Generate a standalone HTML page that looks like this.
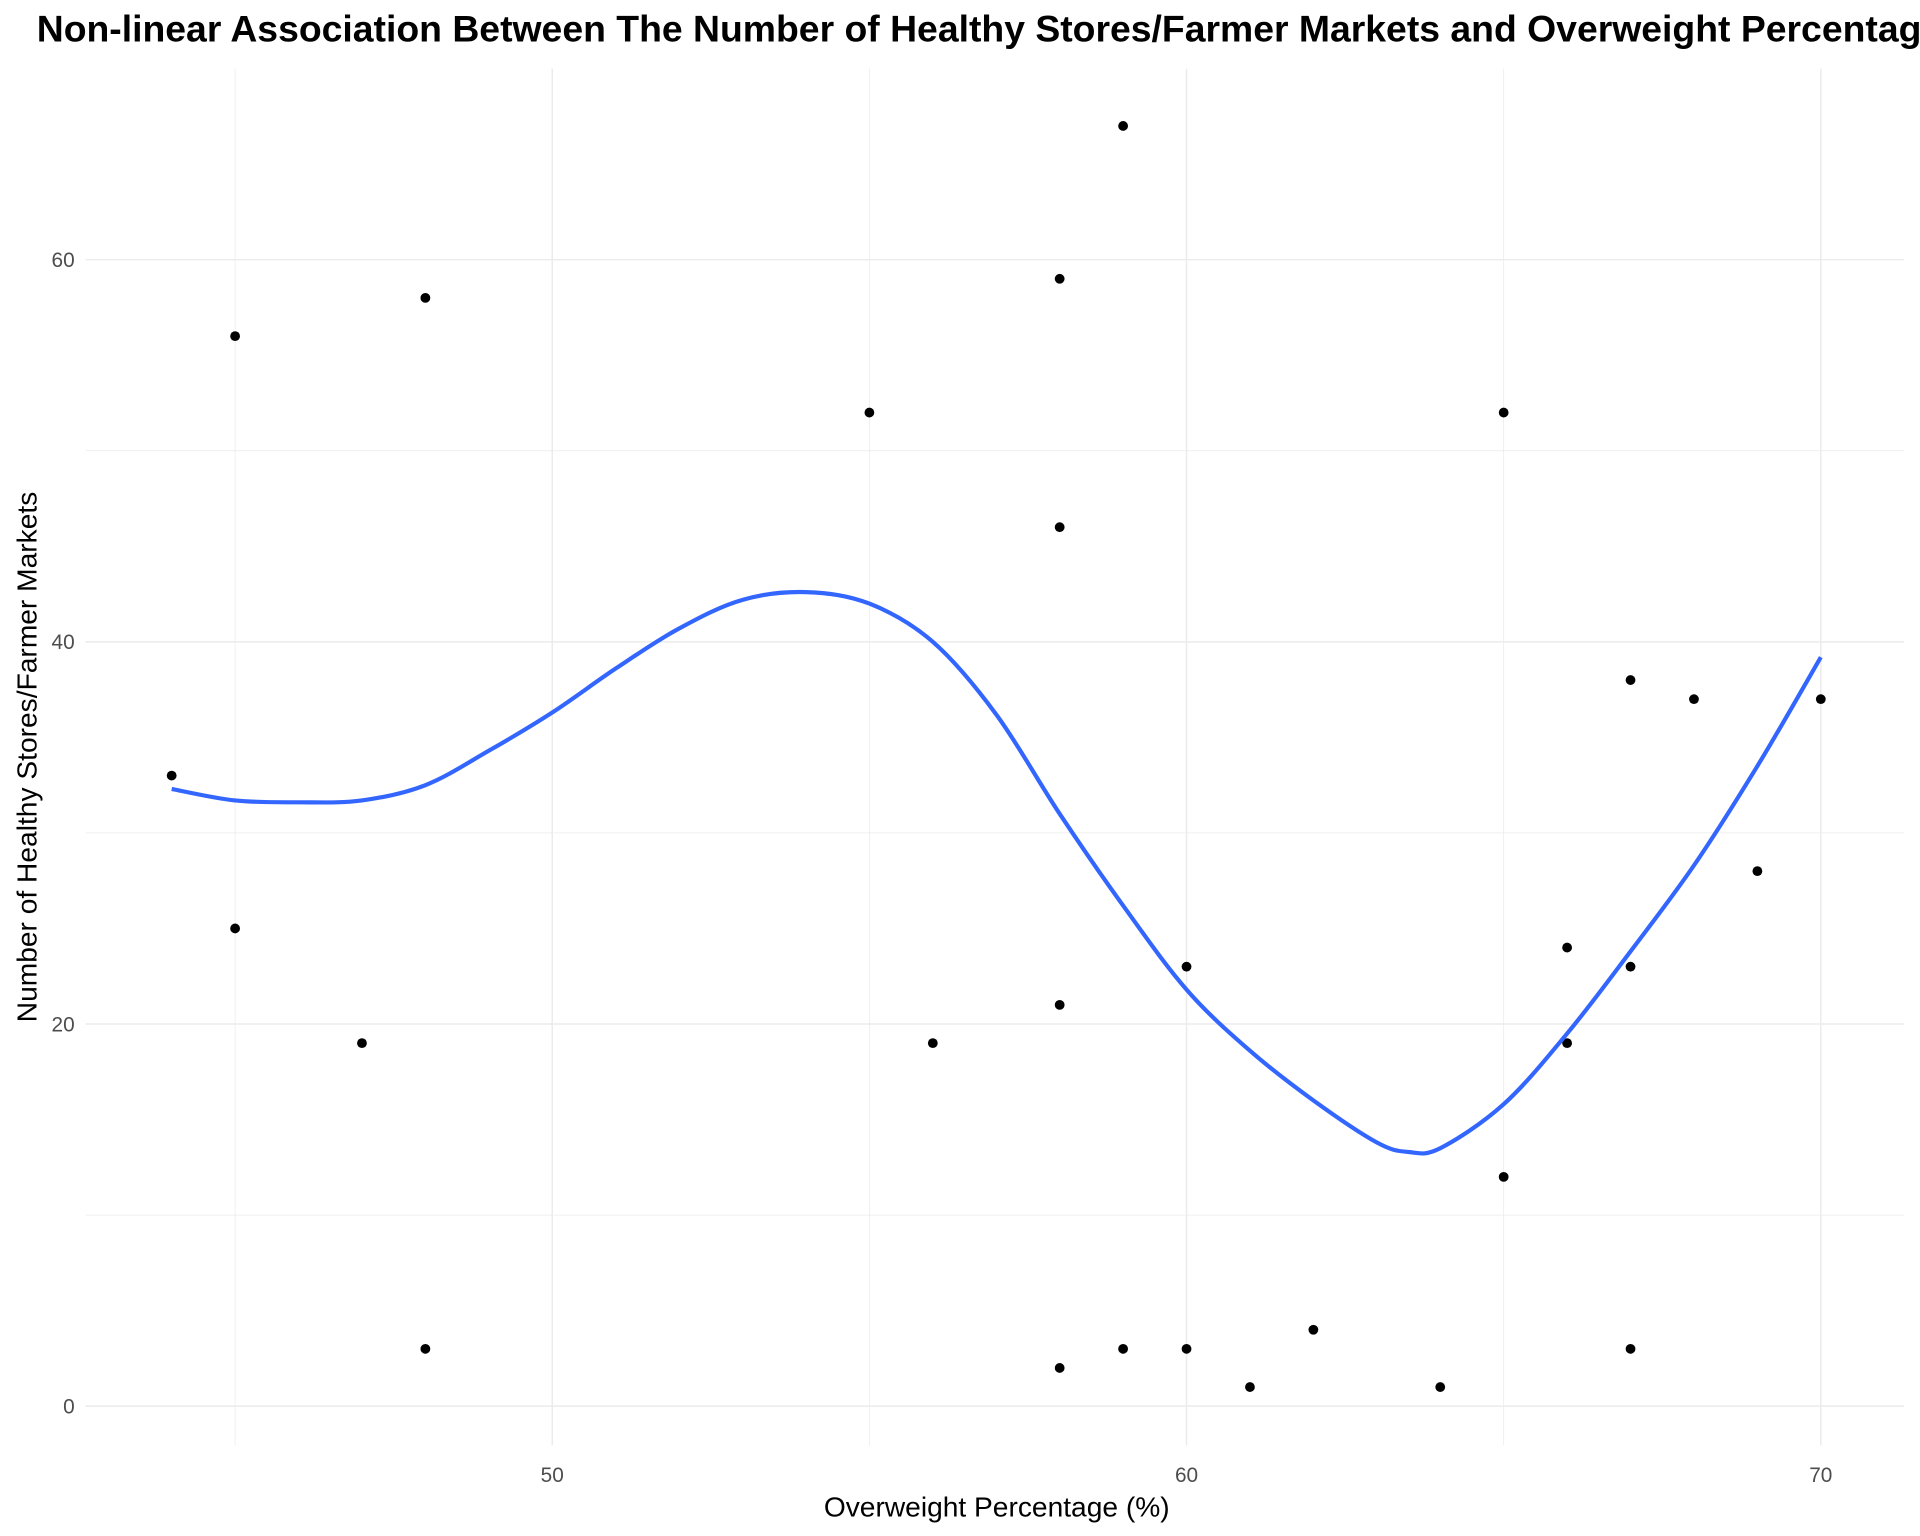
<!DOCTYPE html>
<html><head><meta charset="utf-8"><style>
html,body{margin:0;padding:0;background:#fff;overflow:hidden;}
svg{display:block;font-family:"Liberation Sans",Arial,sans-serif;}
</style></head><body>
<svg id="chart" width="1920" height="1536" viewBox="0 0 1568 1254" preserveAspectRatio="none" xmlns="http://www.w3.org/2000/svg">
<rect width="1568" height="1254" fill="#fff"/>
<g id="grid"></g>
<g id="marks"></g>
<g id="labels"></g>
<text x="30" y="34" font-size="30.5" font-weight="bold" fill="#000">Non-linear Association Between The Number of Healthy Stores/Farmer Markets and Overweight Percentage</text>
<text x="814" y="1238" font-size="23" text-anchor="middle" fill="#000">Overweight Percentage (%)</text>
<text transform="translate(30,618) rotate(-90)" font-size="23" text-anchor="middle" fill="#000">Number of Healthy Stores/Farmer Markets</text>
</svg>
<script>
const xs = [44,45,45,47,48,48,55,56,58,58,58,58,59,59,60,60,61,62,64,65,65,66,66,67,67,67,68,69,70];
const ys = [33,56,25,19,58,3,52,19,59,46,21,2,67,3,23,3,1,4,1,52,12,24,19,38,23,3,37,28,37];
const smoothX = [44,45,46,47,48,49,50,51,52,53,54,55,56,57,58,59,60,61,62,63,63.5,64,65,66,67,68,69,70];
const smoothY = [32.3,31.7,31.6,31.7,32.5,34.3,36.3,38.6,40.7,42.2,42.6,42.0,40.0,36.2,31.0,26.2,21.8,18.6,16.0,13.8,13.3,13.5,15.8,19.5,23.8,28.3,33.5,39.2];
const xTicks = [50,60,70];
const xMinor = [45,55,65];
const yTicks = [0,20,40,60];
const yMinor = [10,30,50];
const NS='http://www.w3.org/2000/svg';
const px = v => 451 + (v-50)*51.8;
const py = v => 1148 - v*15.6;
const L=70,R=1555,T=56,B=1180;
const grid=document.getElementById('grid'), marks=document.getElementById('marks'), labels=document.getElementById('labels');
function line(x1,y1,x2,y2,w){const l=document.createElementNS(NS,'line');l.setAttribute('x1',x1);l.setAttribute('y1',y1);l.setAttribute('x2',x2);l.setAttribute('y2',y2);l.setAttribute('stroke','#ebebeb');l.setAttribute('stroke-width',w);grid.appendChild(l);return l;}
xMinor.forEach(v=>{const l=line(px(v),T,px(v),B,0.6);

});
yMinor.forEach(v=>{const l=line(L,py(v),R,py(v),0.6);

});
xTicks.forEach(v=>{const l=line(px(v),T,px(v),B,1.2);


const t=document.createElementNS(NS,'text');t.setAttribute('x',px(v));t.setAttribute('y',1210);t.setAttribute('font-size','17');t.setAttribute('fill','#4d4d4d');t.setAttribute('text-anchor','middle');t.textContent=v;


labels.appendChild(t);});
yTicks.forEach(v=>{const l=line(L,py(v),R,py(v),1.2);


const t=document.createElementNS(NS,'text');t.setAttribute('x',61);t.setAttribute('y',py(v)+6);t.setAttribute('font-size','17');t.setAttribute('fill','#4d4d4d');t.setAttribute('text-anchor','end');t.textContent=v;


labels.appendChild(t);});
xs.forEach((x,i)=>{const c=document.createElementNS(NS,'circle');c.setAttribute('cx',px(x));c.setAttribute('cy',py(ys[i]));c.setAttribute('r',4);c.setAttribute('fill','#000');


marks.appendChild(c);});
const P=smoothX.map((x,i)=>[px(x),py(smoothY[i])]);
let d='M'+P[0][0].toFixed(1)+','+P[0][1].toFixed(1);
for(let i=0;i<P.length-1;i++){const p0=P[Math.max(0,i-1)],p1=P[i],p2=P[i+1],p3=P[Math.min(P.length-1,i+2)];
const c1=[p1[0]+(p2[0]-p0[0])/6,p1[1]+(p2[1]-p0[1])/6],c2=[p2[0]-(p3[0]-p1[0])/6,p2[1]-(p3[1]-p1[1])/6];
d+='C'+c1[0].toFixed(1)+','+c1[1].toFixed(1)+' '+c2[0].toFixed(1)+','+c2[1].toFixed(1)+' '+p2[0].toFixed(1)+','+p2[1].toFixed(1);}
const p=document.createElementNS(NS,'path');p.setAttribute('d',d);p.setAttribute('fill','none');p.setAttribute('stroke','#3366ff');p.setAttribute('stroke-width',3.4);p.setAttribute('stroke-linejoin','round');


marks.appendChild(p);
</script>
</body></html>
